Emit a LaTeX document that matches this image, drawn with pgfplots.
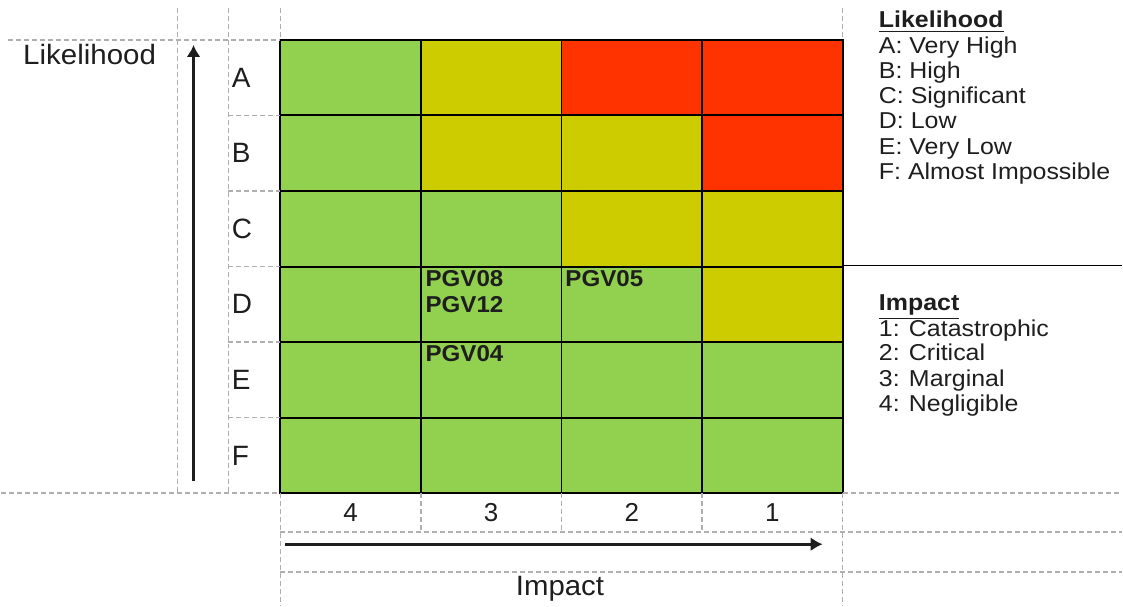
\documentclass[border=0pt]{standalone}
\usepackage{pgfplots}
\pgfplotsset{compat=1.18}
\usetikzlibrary{arrows.meta}
\usepackage{fontspec}
\setmainfont{Liberation Sans}
\definecolor{rgreen}{RGB}{146,208,80}
\definecolor{ryellow}{RGB}{204,204,0}
\definecolor{rred}{RGB}{255,51,0}
\definecolor{dgray}{RGB}{175,175,175}
\definecolor{txt}{RGB}{30,30,30}
\begin{document}
\begin{tikzpicture}
\begin{scope}[x=0.5pt,y=-0.5pt]
\path[use as bounding box] (0,0) rectangle (1123,607);
\end{scope}
\begin{axis}[
  at={(140pt,-20pt)}, anchor=north west,
  width=281.5pt, height=227pt, scale only axis,
  xmin=0, xmax=4, ymin=0, ymax=6,
  xtick={0,...,4}, ytick={0,...,6},
  xticklabels={}, yticklabels={},
  major tick length=0pt,
  grid=major, grid style={black, line width=1pt},
  axis line style={black, line width=1pt},
  axis on top, clip=false,
  colormap={risk}{rgb255=(146,208,80) rgb255=(204,204,0) rgb255=(255,51,0)},
  point meta min=0, point meta max=2,
]
\addplot[matrix plot*, mesh/cols=4, point meta=explicit] table[meta=r] {
x y r
0.5 0.5 0
1.5 0.5 0
2.5 0.5 0
3.5 0.5 0
0.5 1.5 0
1.5 1.5 0
2.5 1.5 0
3.5 1.5 0
0.5 2.5 0
1.5 2.5 0
2.5 2.5 0
3.5 2.5 1
0.5 3.5 0
1.5 3.5 0
2.5 3.5 1
3.5 3.5 1
0.5 4.5 0
1.5 4.5 1
2.5 4.5 1
3.5 4.5 2
0.5 5.5 0
1.5 5.5 1
2.5 5.5 2
3.5 5.5 2
};
\begin{scope}[every node/.style={anchor=base west, inner sep=0pt, xscale=1.05, text=txt, font=\bfseries\fontsize{11.5}{12}\selectfont}]
\node at (axis cs:1.03,2.736) {PGV08};
\node at (axis cs:1.03,2.392) {PGV12};
\node at (axis cs:2.025,2.736) {PGV05};
\node at (axis cs:1.03,1.744) {PGV04};
\end{scope}
\end{axis}
\begin{scope}[x=0.5pt,y=-0.5pt]
\begin{scope}[dgray, line width=0.8pt, dash pattern=on 2.5pt off 1.5pt]
% left verticals
\draw (177,8) -- (177,494);
\draw (228,8) -- (228,494);
\draw (280,8) -- (280,40);
\draw (280,494) -- (280,607);
\draw (843,8) -- (843,40);
\draw (843,494) -- (843,607);
% left horizontals
\draw (7,40) -- (280,40);
\draw (0,494) -- (280,494);
\draw (843,494) -- (1123,494);
\foreach \yy in {115.7,191.3,267,342.7,418.3} \draw (228,\yy) -- (280,\yy);
% bottom
\foreach \xx in {420.75,561.5,702.25} \draw (\xx,494) -- (\xx,533);
\draw (280,533) -- (1123,533);
\draw (280,573) -- (1123,573);
\end{scope}
\draw[black, line width=0.8pt] (843,266) -- (1123,266);
% arrows
\draw[txt, line width=1.5pt, -{Latex[length=6pt,width=7pt]}] (193,482) -- (193,45);
\draw[txt, line width=1.5pt, -{Latex[length=6pt,width=7pt]}] (285,545) -- (823,545);
% axis names
\node[anchor=base west, inner sep=0pt, xscale=1.055, text=txt, font=\fontsize{14}{14}\selectfont] at (22,65) {Likelihood};
\node[anchor=center, inner sep=0pt, xscale=1.05, text=txt, font=\fontsize{14}{14}\selectfont] at (560,590) {Impact};
% row letters
\foreach \l/\yy in {A/77.8,B/153.5,C/229.2,D/304.8,E/380.5,F/456.2}
  \node[anchor=west, inner sep=0pt, text=txt, font=\fontsize{14}{14}\selectfont] at (231,\yy) {\l};
% column numbers
\foreach \n/\xx in {4/350.4,3/491.1,2/631.9,1/772.6}
  \node[anchor=center, inner sep=0pt, text=txt, font=\fontsize{13}{13}\selectfont] at (\xx,513) {\n};
% legends
\begin{scope}[every node/.style={anchor=base west, inner sep=0pt, xscale=1.085, text=txt, font=\fontsize{11.5}{12}\selectfont}]
\node at (879,28) {\underline{\textbf{Likelihood}}};
\node at (879,54) {A: Very High};
\node at (879,79) {B: High};
\node at (879,104) {C: Significant};
\node at (879,129) {D: Low};
\node at (879,155) {E: Very Low};
\node at (879,180) {F: Almost Impossible};
\node at (879,311) {\underline{\textbf{Impact}}};
\node at (879,337) {1: Catastrophic};
\node at (879,361) {2: Critical};
\node at (879,387) {3: Marginal};
\node at (879,412) {4: Negligible};
\end{scope}
\end{scope}
\end{tikzpicture}
\end{document}
